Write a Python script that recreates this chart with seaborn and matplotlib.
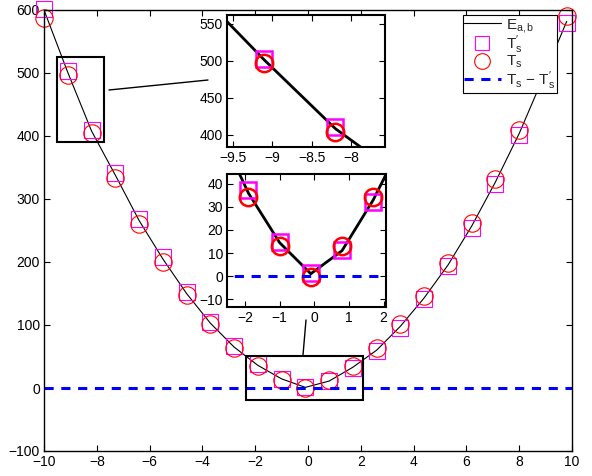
import matplotlib
matplotlib.use("Agg")
import seaborn as sns
from matplotlib import pyplot as plt
from matplotlib.patches import Rectangle
from matplotlib.lines import Line2D

# sample positions and values
x_pts = [-10.0, -9.1, -8.2, -7.3, -6.4, -5.5, -4.6, -3.7, -2.8, -1.9, -1.0, -0.1,
         0.8, 1.7, 2.6, 3.5, 4.4, 5.3, 6.2, 7.1, 8.0, 8.9, 9.8]
e_vals = [600, 501, 408, 338, 266, 205, 150, 103, 65, 36, 14.5, 1,
          11, 33, 60, 98, 143, 195, 257, 327, 404, 492, 582]
ts_prime = [601, 503, 410, 341, 269, 208, 152, 105, 67, 37.4, 15, 1.2,
            11.3, 32, 58.6, 96, 141, 193, 254, 324, 401, 492, 580]
ts_vals = [587, 497, 404, 333, 261, 200, 147, 101, 63, 34.2, 13, -0.6,
           13, 34.5, 63, 101, 146, 199, 262, 331, 410, 487, 591]
diff_x = [-10.0, 10.0]
diff_vals = [0.0, 0.0]

labels = [r"$\mathrm{E}_{a,b}$", r"$\mathrm{T}_s^{\prime}$", r"$\mathrm{T}_s$",
          "$\\mathrm{T}_s$ \u2212 $\\mathrm{T}_s^{\\prime}$"]

sns.set_style("ticks")
plt.rcParams["font.family"] = ["Liberation Sans", "DejaVu Sans"]
plt.rcParams["mathtext.fontset"] = "custom"
plt.rcParams["mathtext.rm"] = "Liberation Sans"
plt.rcParams["mathtext.it"] = "Liberation Sans"
plt.rcParams["font.size"] = 10
plt.rcParams["axes.linewidth"] = 1.0
plt.rcParams["axes.edgecolor"] = "black"


def draw(ax, lw, ew, main):
    sns.lineplot(x=x_pts, y=e_vals, ax=ax, color="black", lw=lw, sort=False,
                 label=labels[0] if main else None, legend=False)
    sns.lineplot(x=x_pts, y=ts_prime, ax=ax, color="magenta", linestyle="",
                 marker="s", markersize=11, markerfacecolor="none",
                 markeredgecolor="magenta", markeredgewidth=ew, sort=False,
                 clip_on=not main, label=labels[1] if main else None, legend=False)
    sns.lineplot(x=x_pts, y=ts_vals, ax=ax, color="red", linestyle="",
                 marker="o", markersize=12.5, markerfacecolor="none",
                 markeredgecolor="red", markeredgewidth=ew, sort=False,
                 clip_on=not main, label=labels[2] if main else None, legend=False)
    sns.lineplot(x=diff_x, y=diff_vals, ax=ax, color="blue", lw=2.2,
                 dashes=(3, 2.5), sort=False,
                 label=labels[3] if main else None, legend=False)
    ax.tick_params(direction="in", top=True, right=True, length=4, width=0.8,
                   colors="black", labelsize=10, pad=3)
    for s in ax.spines.values():
        s.set_visible(True)
        s.set_color("black")


fig = plt.figure(figsize=(5.92, 4.76), dpi=100)
ax = fig.add_axes([44 / 592, 1 - 451 / 476, 528 / 592, 441 / 476])
draw(ax, 0.8, 0.8, True)
ax.set_xlim(-10, 10)
ax.set_ylim(-100, 600)
ax.set_xticks(range(-10, 11, 2))
ax.set_yticks(range(-100, 601, 100))

# zoom boxes
ax.add_patch(Rectangle((-9.52, 390), 1.79, 135, fill=False, ec="black", lw=1.5, zorder=5))
ax.add_patch(Rectangle((-2.36, -19), 4.45, 69.7, fill=False, ec="black", lw=1.5, zorder=5))

leg = ax.legend(loc="upper right", bbox_to_anchor=(0.971, 0.9887), borderaxespad=0,
                frameon=True, fancybox=False, framealpha=1, edgecolor="black",
                fontsize=11, handlelength=2.4, labelspacing=-0.1, markerscale=0.9,
                handletextpad=0.35, borderpad=0.1)
leg.get_frame().set_linewidth(0.8)
leg.set_zorder(10)

# inset 1
ax1 = fig.add_axes([227.3 / 592, 1 - 146.7 / 476, 157.7 / 592, 131.7 / 476])
draw(ax1, 2.0, 1.8, False)
ax1.set_xlim(-9.57, -7.57)
ax1.set_ylim(383.5, 562)
ax1.set_xticks([-9.5, -9, -8.5, -8])
ax1.set_xticklabels(["\u22129.5", "\u22129", "\u22128.5", "\u22128"])
ax1.set_yticks([400, 450, 500, 550])
for s in ax1.spines.values():
    s.set_linewidth(1.5)

# inset 2
ax2 = fig.add_axes([227.3 / 592, 1 - 306.7 / 476, 158.7 / 592, 132.7 / 476])
draw(ax2, 2.0, 1.8, False)
ax2.set_xlim(-2.51, 2.07)
ax2.set_ylim(-13.3, 44.3)
ax2.set_xticks([-2, -1, 0, 1, 2])
ax2.set_yticks([-10, 0, 10, 20, 30, 40])
for s in ax2.spines.values():
    s.set_linewidth(1.5)

# connector lines
fig.add_artist(Line2D([109 / 592, 208 / 592], [1 - 90 / 476, 1 - 80 / 476],
                      color="black", lw=1))
fig.add_artist(Line2D([303 / 592, 306 / 592], [1 - 355 / 476, 1 - 320 / 476],
                      color="black", lw=1))

fig.savefig("out.png", dpi=100)
